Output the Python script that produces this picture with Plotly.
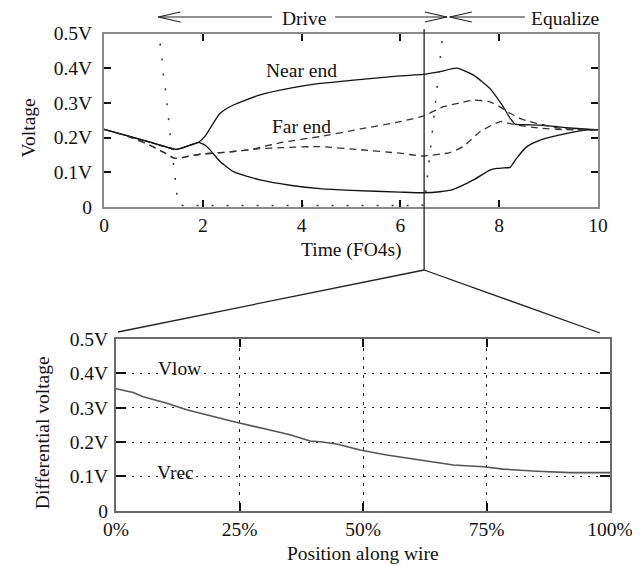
import plotly.graph_objects as go

# ---------------- data ----------------
t_near_high = [0, 0.5, 1.0, 1.47, 1.7, 1.91, 2.05, 2.15, 2.35, 2.62, 3.16, 3.8, 4.37, 5.0, 5.99, 6.46,
               6.8, 7.14, 7.48, 7.81, 8.08, 8.22, 8.32, 8.5, 8.83, 9.2, 9.5, 9.8, 10]
v_near_high = [0.224, 0.204, 0.184, 0.166, 0.176, 0.186, 0.205, 0.227, 0.27, 0.294, 0.323, 0.343, 0.356,
               0.365, 0.378, 0.382, 0.39, 0.40, 0.38, 0.342, 0.289, 0.256, 0.239, 0.237, 0.236, 0.231,
               0.227, 0.224, 0.223]

t_near_low = [0, 0.5, 1.0, 1.47, 1.7, 1.91, 2.05, 2.15, 2.35, 2.62, 3.16, 3.8, 4.37, 5.0, 5.99, 6.46,
              6.8, 7.07, 7.48, 7.81, 7.95, 8.1, 8.22, 8.35, 8.56, 8.83, 9.37, 9.8, 10]
v_near_low = [0.224, 0.204, 0.184, 0.166, 0.176, 0.186, 0.178, 0.164, 0.131, 0.102, 0.078, 0.062, 0.053,
              0.048, 0.043, 0.041, 0.044, 0.051, 0.078, 0.106, 0.111, 0.113, 0.114, 0.14, 0.174, 0.193,
              0.212, 0.222, 0.223]

t_far_high = [0, 0.5, 0.93, 1.2, 1.44, 1.7, 1.94, 2.3, 2.62, 3.0, 3.16, 3.6, 4.37, 5.2, 5.99, 6.46,
              6.87, 7.2, 7.48, 7.81, 8.0, 8.22, 8.4, 8.62, 9.23, 9.6, 10]
v_far_high = [0.224, 0.203, 0.178, 0.158, 0.14, 0.146, 0.152, 0.156, 0.16, 0.166, 0.172, 0.186, 0.203,
              0.225, 0.246, 0.262, 0.289, 0.30, 0.308, 0.303, 0.29, 0.27, 0.256, 0.246, 0.227, 0.224,
              0.222]

t_far_low = [0, 0.5, 0.93, 1.2, 1.44, 1.7, 1.94, 2.3, 2.62, 3.0, 3.16, 3.6, 4.37, 5.2, 5.99, 6.46,
             7.0, 7.27, 7.61, 8.02, 8.29, 8.83, 9.5, 10]
v_far_low = [0.224, 0.203, 0.178, 0.158, 0.14, 0.146, 0.152, 0.156, 0.16, 0.166, 0.168, 0.171, 0.174,
             0.165, 0.155, 0.147, 0.157, 0.174, 0.217, 0.246, 0.238, 0.227, 0.222, 0.222]

t_control = [1.07, 1.12, 1.17, 1.2, 1.25, 1.32, 1.36, 1.44, 1.48, 1.52, 1.6, 6.4, 6.47, 6.5, 6.54,
             6.62, 6.67, 6.73, 6.81, 6.85, 6.9]
v_control = [0.6, 0.487, 0.433, 0.385, 0.332, 0.231, 0.18, 0.083, 0.03, 0.006, 0.004, 0.004, 0.006,
             0.025, 0.078, 0.18, 0.265, 0.332, 0.433, 0.486, 0.6]

position_pct = [0, 3.5, 5.5, 10.3, 14.3, 19.7, 23.7, 30.5, 35.2, 39.3, 41.3, 44.7, 49.4, 54.8, 61.5,
                68.3, 74.4, 78.4, 85.2, 91.9, 100]
diff_voltage = [0.355, 0.344, 0.332, 0.313, 0.294, 0.274, 0.26, 0.237, 0.221, 0.203, 0.201, 0.194,
                0.177, 0.162, 0.148, 0.133, 0.128, 0.121, 0.115, 0.111, 0.111]

time_ticks = [0, 2, 4, 6, 8, 10]
volt_ticks = [0, 0.1, 0.2, 0.3, 0.4, 0.5]
volt_labels = ["0", "0.1V", "0.2V", "0.3V", "0.4V", "0.5V"]
pos_ticks = [0, 25, 50, 75, 100]
pos_labels = ["0%", "25%", "50%", "75%", "100%"]

snapshot_time = 6.48
drive_start, drive_end = 1.10, 6.94
equalize_start, equalize_line_end = 7.0, 8.52
drive_gap = (3.40, 4.68)

# ---------------- figure ----------------
W, H = 640, 566
OFF = 8  # page body margin


def px(x):
    return (x - OFF) / W


def py(y):
    return 1 - (y - OFF) / H


FONT = "Liberation Serif"
INK = "#111111"
FRAME = "#8a8a8a"

fig = go.Figure()
solid = dict(color=INK, width=1.3, shape="spline", smoothing=0.5)
dashed = dict(color="#333333", width=1.3, dash="7px,5px", shape="spline", smoothing=0.5)
fig.add_trace(go.Scatter(x=t_near_high, y=v_near_high, mode="lines", line=solid, xaxis="x", yaxis="y"))
fig.add_trace(go.Scatter(x=t_near_low, y=v_near_low, mode="lines", line=solid, xaxis="x", yaxis="y"))
fig.add_trace(go.Scatter(x=t_far_high, y=v_far_high, mode="lines", line=dashed, xaxis="x", yaxis="y"))
fig.add_trace(go.Scatter(x=t_far_low, y=v_far_low, mode="lines", line=dashed, xaxis="x", yaxis="y"))
fig.add_trace(go.Scatter(x=t_control, y=v_control, mode="lines",
                         line=dict(color="#333333", width=1.5, dash="2px,13px"), xaxis="x", yaxis="y"))
fig.add_trace(go.Scatter(x=position_pct, y=diff_voltage, mode="lines",
                         line=dict(color="#555555", width=1.6), xaxis="x2", yaxis="y2"))

axis_common = dict(showline=True, linewidth=2, mirror="ticks", ticks="inside",
                   tickcolor=INK, tickwidth=1.5, zeroline=False, automargin=False,
                   tickfont=dict(family=FONT, size=19.5, color=INK))

fig.update_layout(
    width=W, height=H, margin=dict(l=0, r=0, t=0, b=0, autoexpand=False),
    paper_bgcolor="white", plot_bgcolor="white", showlegend=False, hovermode=False,
    font=dict(family=FONT, size=19.5, color=INK),
    xaxis=dict(domain=[px(104), px(598)], anchor="y", range=[0, 10], tickvals=time_ticks,
               ticklen=7, showgrid=False, ticklabelstandoff=0, linecolor=FRAME, **axis_common),
    yaxis=dict(domain=[py(207), py(33.5)], anchor="x", range=[0, 0.5], tickvals=volt_ticks,
               ticktext=volt_labels, ticklen=7, showgrid=False, ticklabelstandoff=6, linecolor=FRAME,
               **axis_common),
    xaxis2=dict(domain=[px(116), px(610)], anchor="y2", range=[0, 100], tickvals=pos_ticks,
                ticktext=pos_labels, ticklen=8, showgrid=True, gridcolor="#222222", gridwidth=1.2,
                griddash="3px,6px", ticklabelstandoff=0, linecolor="#6a6a6a", **axis_common),
    yaxis2=dict(domain=[py(510.7), py(339)], anchor="x2", range=[0, 0.5], tickvals=volt_ticks,
                ticktext=volt_labels, ticklen=10, showgrid=True, gridcolor="#222222", gridwidth=1.2,
                griddash="2px,6px", ticklabelstandoff=2, linecolor="#6a6a6a", **axis_common),
)

shapes = []
line_style = dict(color="#222222", width=1.3)
# snapshot vertical line and zoom fan
shapes.append(dict(type="line", xref="x", yref="paper", x0=snapshot_time, x1=snapshot_time,
                   y0=py(270), y1=py(29), line=line_style))
apex_x = px(104 + snapshot_time * 49.4)
shapes.append(dict(type="line", xref="paper", yref="paper", x0=apex_x, y0=py(270), x1=px(118), y1=py(332),
                   line=line_style))
shapes.append(dict(type="line", xref="paper", yref="paper", x0=apex_x, y0=py(270), x1=px(600), y1=py(333),
                   line=line_style))

# phase arrows
ay = py(17)
text_y = py(18.8)
hh = 5 / H
hl = 22 / 49.4
arrow_style = dict(color="#222222", width=1.2)


def seg(x0, y0, x1, y1):
    shapes.append(dict(type="line", xref="x", yref="paper", x0=x0, y0=y0, x1=x1, y1=y1, line=arrow_style))


seg(drive_start, ay, drive_gap[0], ay)
seg(drive_gap[1], ay, drive_end, ay)
seg(drive_start, ay, drive_start + hl, ay + hh)
seg(drive_start, ay, drive_start + hl, ay - hh)
seg(drive_end, ay, drive_end - hl, ay + hh)
seg(drive_end, ay, drive_end - hl, ay - hh)
seg(equalize_start, ay, equalize_line_end, ay)
seg(equalize_start, ay, equalize_start + hl, ay + hh)
seg(equalize_start, ay, equalize_start + hl, ay - hh)
fig.update_layout(shapes=shapes)

annos = [
    dict(text="Drive", xref="x", yref="paper", x=(drive_gap[0] + drive_gap[1]) / 2, y=text_y,
         xanchor="center", borderpad=0),
    dict(text="Equalize", xref="x", yref="paper", x=equalize_line_end + 0.1, y=text_y, xanchor="left",
         borderpad=0),
    dict(text="Near end", xref="x", yref="y", x=4.0, y=0.393),
    dict(text="Far end", xref="x", yref="y", x=4.0, y=0.233),
    dict(text="Vlow", xref="x2", yref="y2", x=12.8, y=0.413),
    dict(text="Vrec", xref="x2", yref="y2", x=12.1, y=0.112),
    dict(text="Voltage", xref="paper", yref="paper", x=px(28), y=py(128.5), textangle=-90),
    dict(text="Time (FO4s)", xref="paper", yref="paper", x=px(351), y=py(250)),
    dict(text="Differential voltage", xref="paper", yref="paper", x=px(42.7), y=py(432.5), textangle=-90),
    dict(text="Position along wire", xref="paper", yref="paper", x=px(363), y=py(553)),
]
for a in annos:
    a.setdefault("xanchor", "center")
    a.setdefault("yanchor", "middle")
    a["showarrow"] = False
    a["font"] = dict(family=FONT, size=19.5, color=INK)
fig.update_layout(annotations=annos)

fig.write_html("out.html")
